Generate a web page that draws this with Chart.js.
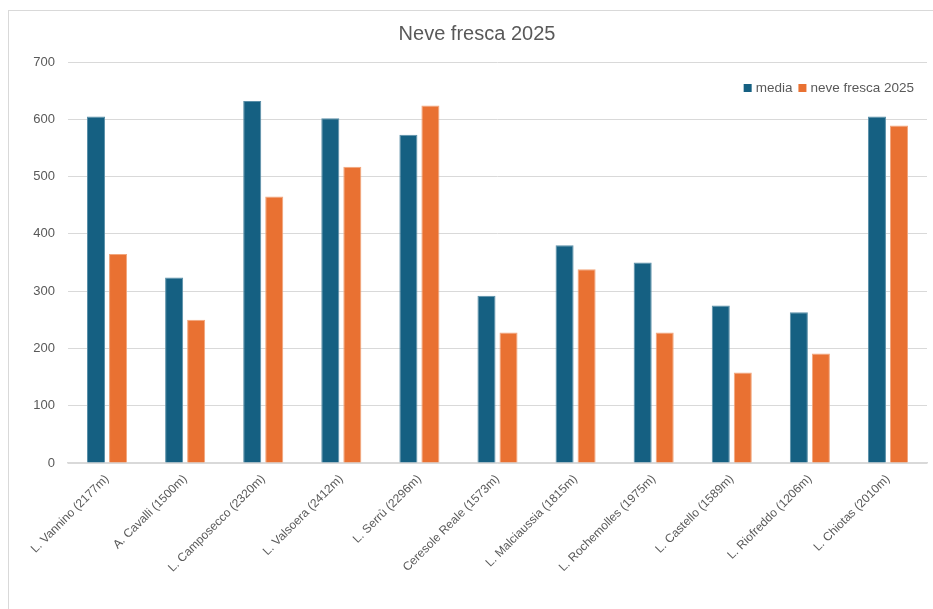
<!DOCTYPE html>
<html>
<head>
<meta charset="utf-8">
<script src="https://cdn.jsdelivr.net/npm/chart.js@4"></script>
<style>
html,body{margin:0;padding:0;background:#fff;}
#wrap{position:relative;width:933px;height:609px;overflow:hidden;}
#frame{position:absolute;left:8px;top:10px;width:940px;height:620px;border:1px solid #d9d9d9;box-sizing:border-box;}
#c{position:absolute;left:0;top:0;}
</style>
</head>
<body>
<div id="wrap">
<div id="frame"></div>
<canvas id="c" width="933" height="609"></canvas>
</div>
<script>
const categories = [
  "L. Vannino (2177m)", "A. Cavalli (1500m)", "L. Camposecco (2320m)", "L. Valsoera (2412m)",
  "L. Serrù (2296m)", "Ceresole Reale (1573m)", "L. Malciaussia (1815m)", "L. Rochemolles (1975m)",
  "L. Castello (1589m)", "L. Riofreddo (1206m)", "L. Chiotas (2010m)"
];
const media = [605, 324, 632, 602, 573, 292, 380, 350, 275, 263, 605];
const neveFresca2025 = [365, 250, 465, 517, 624, 228, 338, 228, 158, 191, 589];
const seriesNames = ["media", "neve fresca 2025"];
const yTicks = [0, 100, 200, 300, 400, 500, 600, 700];
const chartTitle = "Neve fresca 2025";

const FONT = "'Liberation Sans', Arial, sans-serif";
const GRAY = "#595959";

const legendPlugin = {
  id: 'customLegend',
  afterDraw(chart) {
    const ctx = chart.ctx;
    ctx.save();
    ctx.font = "13.5px " + FONT;
    ctx.textBaseline = "middle";
    const y = 88;
    let x = 914;
    const items = chart.data.datasets.map(d => ({label: d.label, color: d.backgroundColor}));
    for (let i = items.length - 1; i >= 0; i--) {
      const it = items[i];
      const w = ctx.measureText(it.label).width;
      x -= w;
      ctx.fillStyle = GRAY;
      ctx.textAlign = "left";
      ctx.fillText(it.label, x, y);
      x -= 4 + 8;
      ctx.fillStyle = it.color;
      ctx.fillRect(x, y - 4, 8, 8);
      x -= 6;
    }
    ctx.restore();
  }
};

new Chart(document.getElementById('c'), {
  type: 'bar',
  data: {
    labels: categories,
    datasets: [
      {label: seriesNames[0], data: media, backgroundColor: '#156082', borderColor: '#5a8fa8', borderWidth: 1, borderSkipped: 'bottom'},
      {label: seriesNames[1], data: neveFresca2025, backgroundColor: '#E97132', borderColor: '#f2a67c', borderWidth: 1, borderSkipped: 'bottom'}
    ]
  },
  options: {
    responsive: false,
    animation: false,
    devicePixelRatio: 1,
    categoryPercentage: 0.564,
    barPercentage: 0.82,
    layout: {padding: {left: 27, right: 6, top: 10, bottom: 0}},
    plugins: {
      legend: {display: false},
      tooltip: {enabled: false},
      title: {
        display: true,
        text: chartTitle,
        color: GRAY,
        font: {family: FONT, size: 20, weight: 'normal'},
        padding: {top: 12, bottom: 16}
      }
    },
    scales: {
      x: {
        grid: {display: false, drawTicks: false},
        border: {display: true, color: '#d9d9d9', width: 1.5},
        ticks: {
          color: GRAY, font: {family: FONT, size: 12},
          minRotation: 45, maxRotation: 45, padding: 9
        },
        afterFit(scale) { scale.height = 146; }
      },
      y: {
        min: 0, max: 700,
        afterBuildTicks(scale) { scale.ticks = yTicks.map(v => ({value: v})); },
        grid: {color: '#d9d9d9', drawTicks: false, lineWidth: 1},
        border: {display: false},
        ticks: {color: GRAY, font: {family: FONT, size: 13}, padding: 13},
        afterFit(scale) { scale.width = 41; }
      }
    }
  },
  plugins: [legendPlugin]
});
</script>
</body>
</html>
